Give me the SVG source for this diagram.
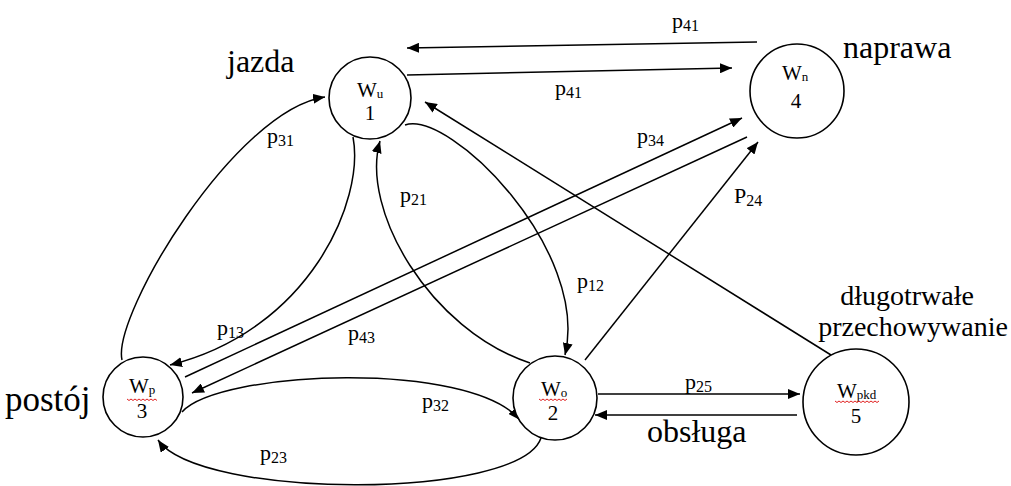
<svg xmlns="http://www.w3.org/2000/svg" width="1011" height="486" viewBox="0 0 1011 486">
  <style>
    .node circle { fill: #ffffff; stroke: #000000; stroke-width: 1.6; }
    .lbl { font-family: "Liberation Serif", "Times New Roman", serif; fill: #000000; }
    .w { font-size: 21px; }
    .sub { font-size: 13px; }
    .num { font-size: 21px; text-anchor: middle; }
    .p { font-size: 22px; }
    .ps { font-size: 16px; }
    .big { font-size: 32px; }
    .mid { font-size: 28px; }
    .edge { fill: none; stroke: #000000; stroke-width: 1.5; marker-end: url(#arr); }
    .squig { fill: none; stroke: #e02020; stroke-width: 1; }
  </style>
  <defs>
    <marker id="arr" viewBox="0 0 12 10" refX="12" refY="5" markerWidth="12" markerHeight="10" markerUnits="userSpaceOnUse" orient="auto">
      <path d="M0,0 L12,5 L0,10 z" fill="#000000"/>
    </marker>
  </defs>
  <rect width="1011" height="486" fill="#ffffff"/>

  <!-- transitions between states -->
  <g id="connectors">
    <path class="edge" d="M757,42 L407,48"/>
    <path class="edge" d="M407,75 L732,68"/>
    <path class="edge" d="M122,360 C 112,315 235,110 325,97"/>
    <path class="edge" d="M353,137 C 365,200 310,330 170,365"/>
    <path class="edge" d="M530,363 C 430,330 360,210 380,141"/>
    <path class="edge" d="M405,125 C 450,110 590,250 565,355"/>
    <path class="edge" d="M185,377 L742,118"/>
    <path class="edge" d="M747,137 L192,393"/>
    <path class="edge" d="M585,360 L758,142"/>
    <path class="edge" d="M831,355 L425,102"/>
    <path class="edge" d="M598,394 L800,394"/>
    <path class="edge" d="M797,415 L595,415"/>
    <path class="edge" d="M182,412 C 220,370 470,360 520,420"/>
    <path class="edge" d="M541,438 C 520,500 200,500 158,440"/>
  </g>

  <!-- transition probabilities -->
  <g id="edge-labels" class="lbl">
    <text class="p" x="672" y="28">p<tspan class="ps" dy="3">41</tspan></text>
    <text class="p" x="555" y="95">p<tspan class="ps" dy="3">41</tspan></text>
    <text class="p" x="267" y="143">p<tspan class="ps" dy="3">31</tspan></text>
    <text class="p" x="217" y="335">p<tspan class="ps" dy="3">13</tspan></text>
    <text class="p" x="348" y="340">p<tspan class="ps" dy="3">43</tspan></text>
    <text class="p" x="400" y="202">p<tspan class="ps" dy="3">21</tspan></text>
    <text class="p" x="637" y="143">p<tspan class="ps" dy="3">34</tspan></text>
    <text class="p" x="734" y="203">P<tspan class="ps" dy="3">24</tspan></text>
    <text class="p" x="577" y="288">p<tspan class="ps" dy="3">12</tspan></text>
    <text class="p" x="685" y="389">p<tspan class="ps" dy="3">25</tspan></text>
    <text class="p" x="422" y="408">p<tspan class="ps" dy="3">32</tspan></text>
    <text class="p" x="260" y="460">p<tspan class="ps" dy="3">23</tspan></text>
  </g>

  <!-- state names -->
  <g id="state-names" class="lbl">
    <text class="big" x="227" y="72">jazda</text>
    <text class="big" x="843" y="58">naprawa</text>
    <text class="big" x="5" y="411" style="font-size:35px">postój</text>
    <text class="mid" x="907" y="305" text-anchor="middle">długotrwałe</text>
    <text class="mid" x="913" y="336" text-anchor="middle">przechowywanie</text>
    <text class="big" x="647" y="442">obsługa</text>
  </g>

  <g id="node-1" class="node">
    <circle cx="370" cy="98" r="41"/>
    <text class="lbl w" x="357" y="97">W<tspan class="sub" dy="1">u</tspan></text>
    <text class="lbl num" x="370" y="120">1</text>
  </g>

  <g id="node-4" class="node">
    <circle cx="797" cy="91" r="47"/>
    <text class="lbl w" x="782" y="80">W<tspan class="sub" dy="1">n</tspan></text>
    <text class="lbl num" x="796" y="108">4</text>
  </g>

  <g id="node-3" class="node">
    <circle cx="143" cy="397" r="40"/>
    <text class="lbl w" x="129" y="393">W<tspan class="sub" dy="1">p</tspan></text>
    <path class="squig" d="M127,399 l2,1.5 l2,-1.5 l2,1.5 l2,-1.5 l2,1.5 l2,-1.5 l2,1.5 l2,-1.5 l2,1.5 l2,-1.5 l2,1.5 l2,-1.5 l2,1.5 l2,-1.5 l2,1.5"/>
    <text class="lbl num" x="142" y="418">3</text>
  </g>

  <g id="node-2" class="node">
    <circle cx="555" cy="398" r="42"/>
    <text class="lbl w" x="541" y="396">W<tspan class="sub" dy="1">o</tspan></text>
    <path class="squig" d="M539,399 l2,1.5 l2,-1.5 l2,1.5 l2,-1.5 l2,1.5 l2,-1.5 l2,1.5 l2,-1.5 l2,1.5 l2,-1.5 l2,1.5 l2,-1.5 l2,1.5 l2,-1.5"/>
    <text class="lbl num" x="553" y="420">2</text>
  </g>

  <g id="node-5" class="node">
    <circle cx="856" cy="402" r="53"/>
    <text class="lbl w" x="837" y="398">W<tspan class="sub" dy="1">pkd</tspan></text>
    <path class="squig" d="M835,401 l2,1.5 l2,-1.5 l2,1.5 l2,-1.5 l2,1.5 l2,-1.5 l2,1.5 l2,-1.5 l2,1.5 l2,-1.5 l2,1.5 l2,-1.5 l2,1.5 l2,-1.5 l2,1.5 l2,-1.5 l2,1.5 l2,-1.5 l2,1.5 l2,-1.5 l2,1.5 l2,-1.5"/>
    <text class="lbl num" x="856" y="423">5</text>
  </g>
</svg>
